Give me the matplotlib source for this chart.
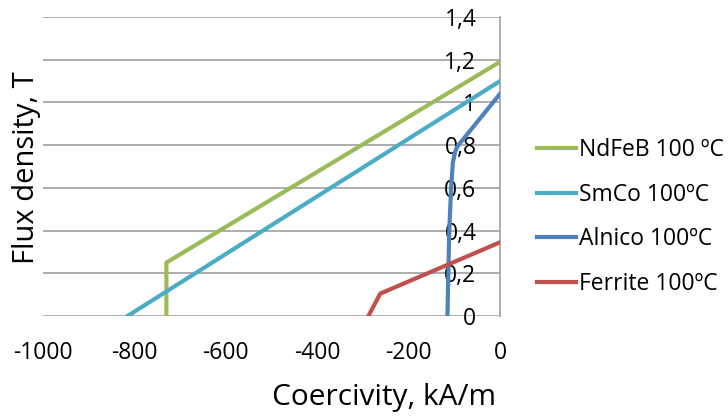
import matplotlib
matplotlib.use("Agg")
import matplotlib.pyplot as plt

plt.rcParams['font.family'] = ['Open Sans', 'DejaVu Sans']

# Data (coercivity kA/m, flux density T)
ndfeb_x = [-730, -730, 0]
ndfeb_y = [0.0, 0.25, 1.19]
smco_x = [-815, 0]
smco_y = [0.0, 1.10]
alnico_x = [-115, -113, -111, -107, -103, -98, -93, 0]
alnico_y = [0.0, 0.2, 0.4, 0.6, 0.72, 0.77, 0.795, 1.04]
ferrite_x = [-288, -262, 0]
ferrite_y = [0.0, 0.105, 0.345]

labels = ['NdFeB 100 ºC', 'SmCo 100ºC', 'Alnico 100ºC', 'Ferrite 100ºC']
colors = ['#9BBB59', '#4BACC6', '#4F81BD', '#C0504D']
xticks = [-1000, -800, -600, -400, -200, 0]
yticks = [0, 0.2, 0.4, 0.6, 0.8, 1.0, 1.2, 1.4]
ytick_labels = ['0', '0,2', '0,4', '0,6', '0,8', '1', '1,2', '1,4']

fig = plt.figure(figsize=(7.28, 4.16), dpi=100)
ax = fig.add_axes([43/728, 1-316/416, (500-43)/728, (316-17)/416])

series = [(ndfeb_x, ndfeb_y), (smco_x, smco_y), (alnico_x, alnico_y), (ferrite_x, ferrite_y)]
handles = []
for (xs, ys), c, lab in zip(series, colors, labels):
    h, = ax.plot(xs, ys, color=c, lw=3, label=lab, solid_joinstyle='miter', zorder=3)
    handles.append(h)

ax.set_xlim(-1000, 0)
ax.set_ylim(0, 1.4)
ax.set_xticks(xticks)
ax.set_xticklabels([str(v) for v in xticks])
ax.set_yticks(yticks)
ax.set_yticklabels(ytick_labels)

for s in ['top', 'right', 'bottom']:
    ax.spines[s].set_visible(False)
ax.spines['left'].set_position(('data', 0))
ax.spines['left'].set_color('#a0a0a0')
ax.spines['left'].set_linewidth(1.2)
ax.spines['left'].set_zorder(2)

ax.yaxis.grid(True, color='#a0a0a0', lw=1.2, zorder=1)
ax.set_axisbelow(True)
ax.tick_params(axis='both', length=0, labelsize=16.5)
ax.tick_params(axis='y', pad=17)
ax.tick_params(axis='x', pad=18)
for t in ax.get_yticklabels():
    t.set_zorder(5)

fig.text(384/728, 1-398/416, 'Coercivity, kA/m', ha='center', va='center', fontsize=21.5)
fig.text(27/728, 1-168/416, 'Flux density, T', ha='center', va='center', fontsize=21, rotation=90)

leg = fig.legend(handles=handles, labels=labels, loc='upper left',
                 bbox_to_anchor=(537/728, 1-138/416), frameon=False,
                 fontsize=16.5, handlelength=1.7, handletextpad=0.15,
                 labelspacing=0.9, borderpad=0, borderaxespad=0)

fig.savefig('out.png', dpi=100)
